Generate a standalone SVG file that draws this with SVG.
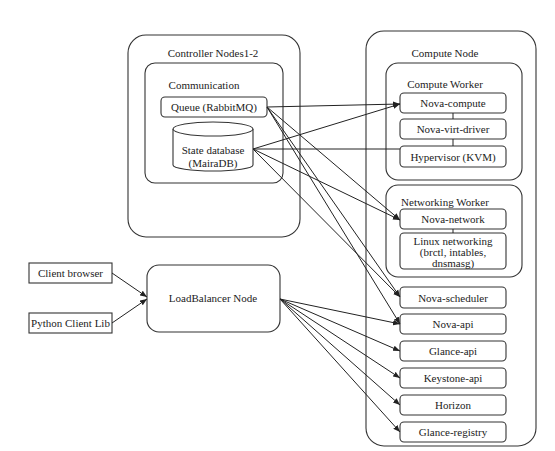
<svg xmlns="http://www.w3.org/2000/svg" width="555" height="451" viewBox="0 0 555 451">
<style>
  .box{fill:#fff;stroke:#333;stroke-width:1.1}
  .cont{fill:none;stroke:#333;stroke-width:1.1}
  .t{font-family:"Liberation Serif","Times New Roman",serif;font-size:11px;fill:#222;text-anchor:middle;dominant-baseline:central}
  .c{fill:none;stroke:#222;stroke-width:1}
  .ca{fill:none;stroke:#222;stroke-width:1;marker-end:url(#ah)}
</style>
<defs>
  <marker id="ah" viewBox="0 0 10 10" refX="10" refY="5" markerWidth="7" markerHeight="7" markerUnits="userSpaceOnUse" orient="auto">
    <path d="M0,1 L10,5 L0,9 z" fill="#222"/>
  </marker>
</defs>
<rect width="555" height="451" fill="#fff"/>

<g id="controller">
  <rect class="cont" x="128" y="35" width="172" height="202" rx="18"/>
  <text class="t" x="213" y="53">Controller Nodes1-2</text>
</g>
<g id="communication">
  <rect class="cont" x="145" y="63" width="138" height="120" rx="10"/>
  <text class="t" x="204" y="85">Communication</text>
</g>
<g id="queue">
  <rect class="box" x="161" y="97" width="106" height="20" rx="4"/>
  <text class="t" x="214" y="107">Queue (RabbitMQ)</text>
</g>
<g id="statedb">
  <path class="box" d="M173,129 L173,165 A40,6 0 0 0 253,165 L253,129"/>
  <ellipse class="box" cx="213" cy="129" rx="40" ry="7"/>
  <text class="t" x="213" y="150">State database</text>
  <text class="t" x="213" y="163">(MairaDB)</text>
</g>

<g id="computenode">
  <rect class="cont" x="366" y="31" width="170" height="415" rx="18"/>
  <text class="t" x="445" y="53">Compute Node</text>
</g>
<g id="computeworker">
  <rect class="cont" x="386" y="63" width="136" height="117" rx="12"/>
  <text class="t" x="445" y="84">Compute Worker</text>
</g>
<g id="novacompute">
  <rect class="box" x="400" y="93" width="106" height="20" rx="4"/>
  <text class="t" x="453" y="103">Nova-compute</text>
</g>
<g id="novavirt">
  <rect class="box" x="400" y="119" width="106" height="20" rx="4"/>
  <text class="t" x="453" y="129">Nova-virt-driver</text>
</g>
<g id="hypervisor">
  <rect class="box" x="400" y="146" width="106" height="21" rx="4"/>
  <text class="t" x="453" y="156.5">Hypervisor (KVM)</text>
</g>
<g id="networkingworker">
  <rect class="cont" x="386" y="185" width="136" height="92" rx="12"/>
  <text class="t" x="445" y="202">Networking Worker</text>
</g>
<g id="novanetwork">
  <rect class="box" x="400" y="209" width="106" height="20" rx="4"/>
  <text class="t" x="453" y="219">Nova-network</text>
</g>
<g id="linuxnet">
  <rect class="box" x="400" y="233" width="106" height="36" rx="4"/>
  <text class="t" x="453" y="241">Linux networking</text>
  <text class="t" x="453" y="252">(brctl, intables,</text>
  <text class="t" x="453" y="263">dnsmasg)</text>
</g>
<g id="novascheduler">
  <rect class="box" x="400" y="287" width="106" height="21" rx="4"/>
  <text class="t" x="453" y="297.5">Nova-scheduler</text>
</g>
<g id="novaapi">
  <rect class="box" x="400" y="314" width="106" height="20" rx="4"/>
  <text class="t" x="453" y="324">Nova-api</text>
</g>
<g id="glanceapi">
  <rect class="box" x="400" y="341" width="106" height="20" rx="4"/>
  <text class="t" x="453" y="351">Glance-api</text>
</g>
<g id="keystoneapi">
  <rect class="box" x="400" y="368" width="106" height="20" rx="4"/>
  <text class="t" x="453" y="378">Keystone-api</text>
</g>
<g id="horizon">
  <rect class="box" x="400" y="395" width="106" height="20" rx="4"/>
  <text class="t" x="453" y="405">Horizon</text>
</g>
<g id="glanceregistry">
  <rect class="box" x="400" y="422" width="106" height="20" rx="4"/>
  <text class="t" x="453" y="432">Glance-registry</text>
</g>

<g id="clientbrowser">
  <rect class="box" x="29" y="263" width="83" height="20"/>
  <text class="t" x="70.5" y="273">Client browser</text>
</g>
<g id="pythonclient">
  <rect class="box" x="29" y="313" width="83" height="20"/>
  <text class="t" x="70.5" y="323">Python Client Lib</text>
</g>
<g id="loadbalancer">
  <rect class="box" x="147" y="265" width="133" height="67" rx="12"/>
  <text class="t" x="213" y="298">LoadBalancer Node</text>
</g>

<g id="connectors">
  <line class="c" x1="453" y1="113" x2="453" y2="119"/>
  <line class="c" x1="453" y1="139" x2="453" y2="146"/>
  <line class="c" x1="453" y1="229" x2="453" y2="233"/>

  <line class="ca" x1="267" y1="107" x2="400" y2="104"/>
  <line class="ca" x1="253" y1="149" x2="400" y2="104"/>
  <line class="c" x1="253" y1="149" x2="400" y2="149"/>
  <line class="ca" x1="267" y1="107" x2="400" y2="220"/>
  <line class="ca" x1="253" y1="149" x2="400" y2="220"/>
  <line class="ca" x1="267" y1="107" x2="400" y2="297"/>
  <line class="ca" x1="253" y1="149" x2="400" y2="297"/>
  <line class="ca" x1="267" y1="107" x2="400" y2="324"/>

  <line class="ca" x1="112" y1="273" x2="147" y2="297"/>
  <line class="ca" x1="112" y1="323" x2="147" y2="299"/>

  <line class="ca" x1="280" y1="299" x2="400" y2="324"/>
  <line class="ca" x1="280" y1="299" x2="400" y2="351"/>
  <line class="ca" x1="280" y1="299" x2="400" y2="378"/>
  <line class="ca" x1="280" y1="299" x2="400" y2="405"/>
  <line class="ca" x1="280" y1="299" x2="400" y2="432"/>
</g>
</svg>
